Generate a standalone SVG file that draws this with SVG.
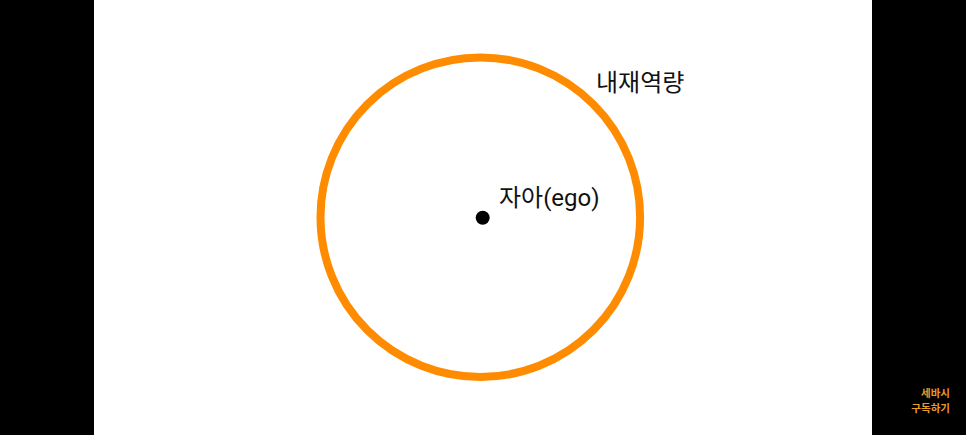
<svg xmlns="http://www.w3.org/2000/svg" width="966" height="435" viewBox="0 0 966 435">
  <style>
    .label { font-family: Roboto, "Noto Sans CJK KR", sans-serif; font-size: 24px; fill: #111111; }
    .badge { font-family: "Noto Sans CJK KR", sans-serif; font-size: 10.5px; font-weight: bold; fill: #E89A2C; text-anchor: end; }
  </style>
  <rect x="0" y="0" width="966" height="435" fill="#000000"/>
  <rect x="94" y="0" width="778" height="435" fill="#ffffff"/>
  <g id="connectors"></g>
  <g id="capacity">
    <circle cx="480.3" cy="217.2" r="159.8" fill="none" stroke="#FF8C00" stroke-width="8"/>
    <text class="label" x="596" y="91" font-size="22">내재역량</text>
  </g>
  <g id="ego">
    <circle cx="482.7" cy="217.7" r="7" fill="#000000"/>
    <text class="label" x="499" y="206">자아(ego)</text>
  </g>
  <g id="badge">
    <text class="badge" x="950" y="397">세바시</text>
    <text class="badge" x="950" y="411.5">구독하기</text>
  </g>
</svg>
